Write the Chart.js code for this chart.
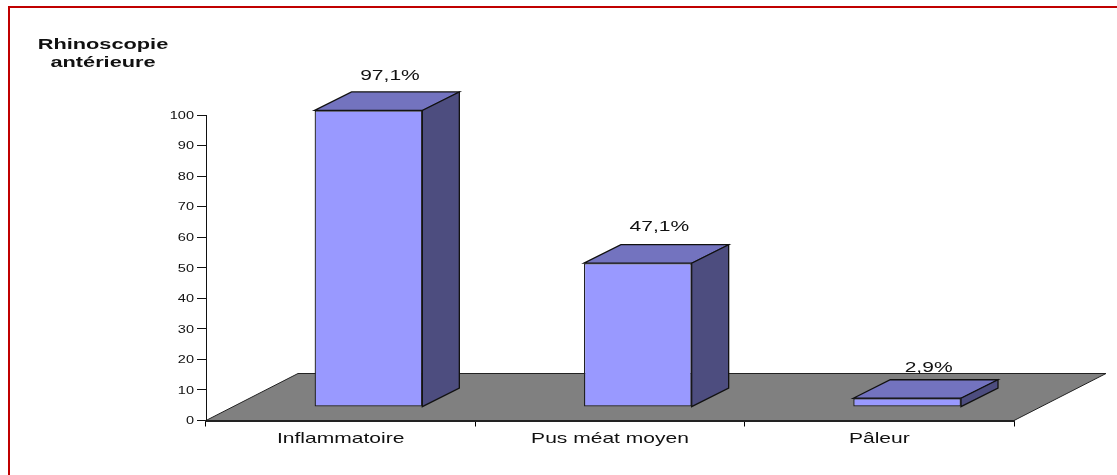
<!DOCTYPE html>
<html>
<head>
<meta charset="utf-8">
<style>
  html, body { margin: 0; padding: 0; background: #fff; overflow: hidden; }
  #wrap { position: relative; width: 1117px; height: 475px; }
  #frame { position: absolute; left: 8px; top: 6px; right: 0; bottom: 0; border-left: 2px solid #c00000; border-top: 2px solid #c00000; pointer-events: none; }
</style>
<script src="https://cdn.jsdelivr.net/npm/chart.js@4"></script>
</head>
<body>
<div id="wrap">
  <canvas id="myChart" width="1117" height="475"></canvas>
  <div id="frame"></div>
</div>
<script>
const categories = ['Inflammatoire', 'Pus méat moyen', 'Pâleur'];
const values = [97.1, 47.1, 2.9];
const valueLabels = ['97,1%', '47,1%', '2,9%'];
const yTicks = [0, 10, 20, 30, 40, 50, 60, 70, 80, 90, 100];
const titleLines = ['Rhinoscopie', 'antérieure'];

const fontName = '"Liberation Sans", Arial, sans-serif';

// depth of the fake 3d floor and of the bars, in px
const floorDx = 92, floorDy = -47;
const barShiftX = 27.8, barShiftY = -13.4;
const barDx = 37, barDy = -18.5;
// space above each bar for its label
const labelGaps = [16, 18, 12];
// the picture was stretched sideways, so all its text is wider than the font
const stretch = 1.45;

function poly(ctx, pts, fill, stroke, lw) {
  ctx.beginPath();
  pts.forEach((p, i) => i ? ctx.lineTo(p[0], p[1]) : ctx.moveTo(p[0], p[1]));
  ctx.closePath();
  ctx.fillStyle = fill;
  ctx.fill();
  ctx.lineWidth = lw;
  ctx.strokeStyle = stroke;
  ctx.stroke();
}

function wideText(ctx, text, x, y) {
  ctx.save();
  ctx.translate(x, y);
  ctx.scale(stretch, 1);
  ctx.fillText(text, 0, 0);
  ctx.restore();
}

const fake3d = {
  id: 'fake3d',
  // floor goes under the axes
  beforeDraw(chart) {
    const ctx = chart.ctx, a = chart.chartArea;
    const y0 = chart.scales.y.getPixelForValue(0);
    ctx.save();
    poly(ctx, [
      [a.left, y0],
      [a.right, y0],
      [a.right + floorDx, y0 + floorDy],
      [a.left + floorDx, y0 + floorDy]
    ], '#808080', '#222', 1);
    ctx.restore();
  },
  // top and side faces, then shift so the library draws the front faces in place
  beforeDatasetDraw(chart, args) {
    const ctx = chart.ctx;
    ctx.save();
    ctx.translate(barShiftX, barShiftY);
    args.meta.data.forEach(bar => {
      const l = bar.x - bar.width / 2, r = bar.x + bar.width / 2;
      const t = bar.y, b = bar.base;
      poly(ctx, [[l, t], [r, t], [r + barDx, t + barDy], [l + barDx, t + barDy]], '#7373bf', '#111', 1.3);
      poly(ctx, [[r, t], [r + barDx, t + barDy], [r + barDx, b + barDy], [r, b]], '#4d4d7f', '#111', 1.3);
    });
  },
  afterDatasetDraw(chart) {
    chart.ctx.restore();
  },
  afterDatasetsDraw(chart) {
    const ctx = chart.ctx;
    const xScale = chart.scales.x, yScale = chart.scales.y;
    ctx.save();
    ctx.fillStyle = '#111';
    ctx.textBaseline = 'middle';

    ctx.textAlign = 'right';
    ctx.font = '10px ' + fontName;
    yTicks.forEach(v => wideText(ctx, String(v), 194, yScale.getPixelForValue(v) + 1));

    ctx.textAlign = 'center';
    ctx.font = '14.5px ' + fontName;
    categories.forEach((c, i) => wideText(ctx, c, xScale.getPixelForValue(i), 439));

    chart.getDatasetMeta(0).data.forEach((bar, i) => {
      const x = bar.x + barShiftX + barDx / 2 + 3;
      const y = bar.y + barShiftY + barDy - labelGaps[i];
      wideText(ctx, valueLabels[i], x, y);
    });

    ctx.font = 'bold 15px ' + fontName;
    titleLines.forEach((line, i) => wideText(ctx, line, 103, 44.5 + i * 18));
    ctx.restore();
  }
};

new Chart('myChart', {
  type: 'bar',
  data: {
    labels: categories,
    datasets: [{
      data: values,
      backgroundColor: '#9999ff',
      borderColor: '#222',
      borderWidth: 1.3,
      borderSkipped: false,
      barPercentage: 0.4,
      categoryPercentage: 1,
      clip: false
    }]
  },
  options: {
    responsive: false,
    animation: false,
    events: [],
    layout: { padding: { left: 20, top: 115, right: 103, bottom: 10 } },
    plugins: { legend: { display: false }, title: { display: false }, tooltip: { enabled: false } },
    scales: {
      x: {
        afterFit: s => { s.height = 44.5; },
        grid: { drawOnChartArea: false, drawTicks: true, tickLength: 6, color: '#000' },
        border: { display: true, color: '#222', width: 2 },
        ticks: { display: false }
      },
      y: {
        min: 0,
        max: 100,
        afterFit: s => { s.width = 186; },
        afterBuildTicks: s => { s.ticks = yTicks.map(v => ({ value: v })); },
        grid: { drawOnChartArea: false, drawTicks: true, tickLength: 9, color: '#111' },
        border: { display: true, color: '#111', width: 1 },
        ticks: { display: false }
      }
    }
  },
  plugins: [fake3d]
});
</script>
</body>
</html>
